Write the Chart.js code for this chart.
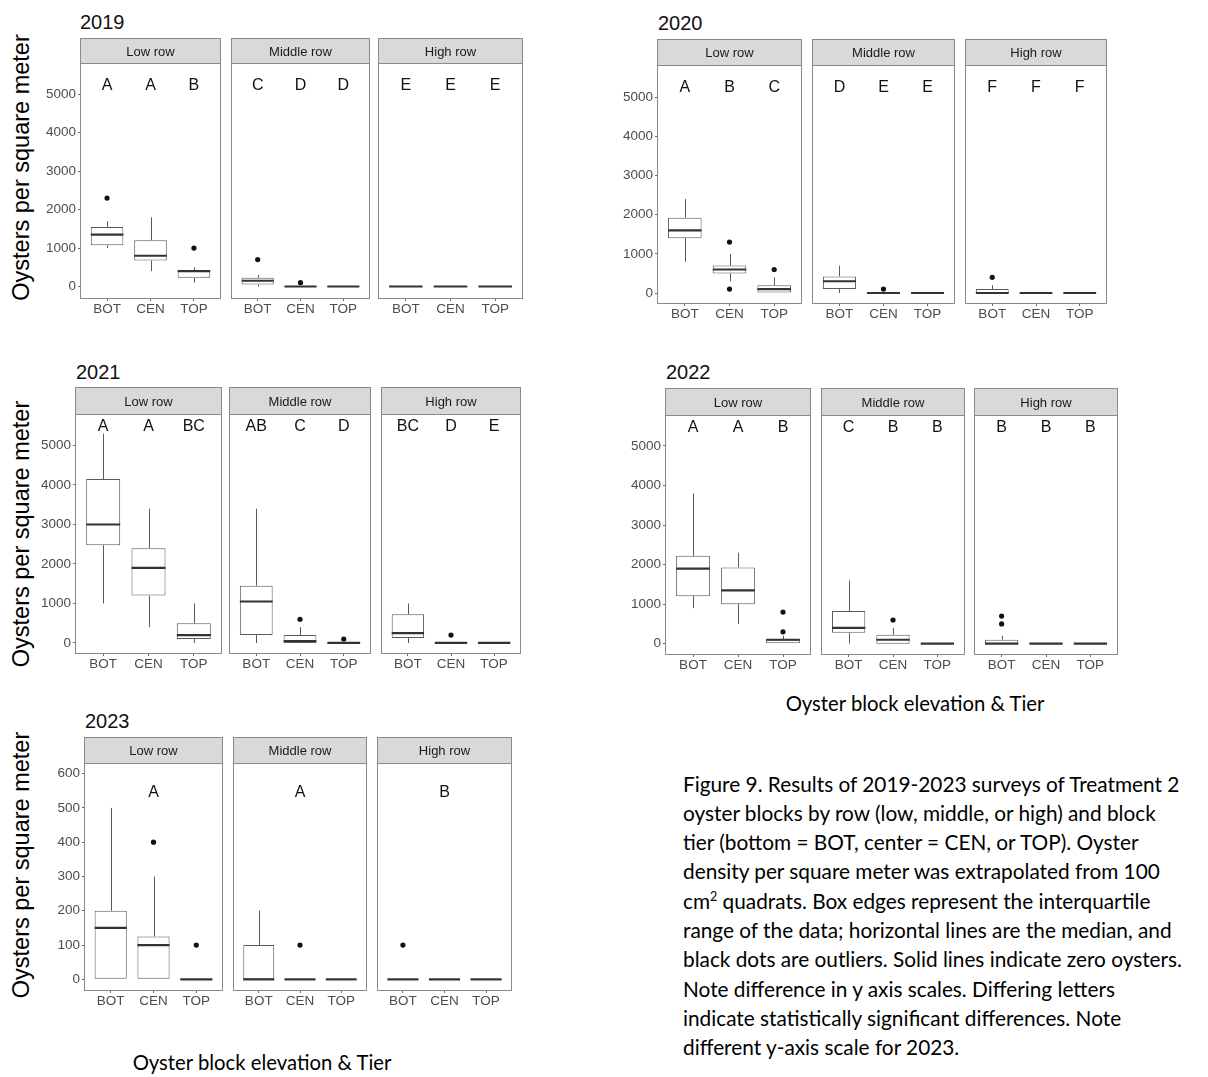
<!DOCTYPE html>
<html>
<head>
<meta charset="utf-8">
<title>Oyster density by row and tier, 2019-2023</title>
<script src="https://cdn.jsdelivr.net/npm/chart.js@4.4.1/dist/chart.umd.min.js"></script>
<style>
  html, body { margin: 0; padding: 0; background: #ffffff; }
  body { width: 1208px; height: 1077px; overflow: hidden; position: relative; }
  canvas.panel { position: absolute; }
  svg#labels { position: absolute; left: 0; top: 0; pointer-events: none; }
</style>
</head>
<body>
<svg id="labels" width="1208" height="1077" xmlns="http://www.w3.org/2000/svg"></svg>
<script>
// ---------------- data ----------------
const tiers = ['BOT', 'CEN', 'TOP'];
const rows = ['Low row', 'Middle row', 'High row'];
const years = ['2019', '2020', '2021', '2022', '2023'];
const yTicksMain = [0, 1000, 2000, 3000, 4000, 5000];
const yTicks2023 = [0, 100, 200, 300, 400, 500, 600];

// Box summaries for each row (Low, Middle, High) and tier (BOT, CEN, TOP):
// [lower whisker, lower hinge, median, upper hinge, upper whisker]
const box2019 = [
  [[1000, 1075, 1350, 1550, 1700], [400, 675, 800, 1200, 1800], [100, 225, 400, 425, 500]],
  [[0, 50, 150, 225, 300], [0, 0, 0, 0, 0], [0, 0, 0, 0, 0]],
  [[0, 0, 0, 0, 0], [0, 0, 0, 0, 0], [0, 0, 0, 0, 0]]
];
const box2020 = [
  [[800, 1400, 1600, 1925, 2400], [300, 500, 600, 700, 1000], [0, 0, 100, 200, 400]],
  [[0, 100, 300, 425, 700], [0, 0, 0, 0, 0], [0, 0, 0, 0, 0]],
  [[0, 0, 0, 100, 200], [0, 0, 0, 0, 0], [0, 0, 0, 0, 0]]
];
const box2021 = [
  [[1000, 2475, 3000, 4150, 5300], [400, 1200, 1900, 2400, 3400], [0, 100, 200, 500, 1000]],
  [[0, 200, 1050, 1450, 3400], [0, 0, 50, 200, 400], [0, 0, 0, 0, 0]],
  [[0, 125, 250, 725, 1000], [0, 0, 0, 0, 0], [0, 0, 0, 0, 0]]
];
const box2022 = [
  [[900, 1200, 1900, 2225, 3800], [500, 1000, 1350, 1925, 2300], [0, 0, 100, 100, 200]],
  [[0, 275, 400, 825, 1600], [0, 0, 100, 225, 400], [0, 0, 0, 0, 0]],
  [[0, 0, 0, 100, 200], [0, 0, 0, 0, 0], [0, 0, 0, 0, 0]]
];
const box2023 = [
  [[0, 0, 150, 200, 500], [0, 0, 100, 125, 300], [0, 0, 0, 0, 0]],
  [[0, 0, 0, 100, 200], [0, 0, 0, 0, 0], [0, 0, 0, 0, 0]],
  [[0, 0, 0, 0, 0], [0, 0, 0, 0, 0], [0, 0, 0, 0, 0]]
];

// Outlying quadrats per row and tier
const out2019 = [[[2300], [], [1000]], [[700], [100], []], [[], [], []]];
const out2020 = [[[], [1300, 100], [600]], [[], [100], []], [[400], [], []]];
const out2021 = [[[], [], []], [[], [600], [100]], [[], [200], []]];
const out2022 = [[[], [], [800, 300]], [[], [600], []], [[700, 500], [], []]];
const out2023 = [[[], [400], [100]], [[], [100], []], [[100], [], []]];

// Significance letters per row and tier
const letters2019 = [['A', 'A', 'B'], ['C', 'D', 'D'], ['E', 'E', 'E']];
const letters2020 = [['A', 'B', 'C'], ['D', 'E', 'E'], ['F', 'F', 'F']];
const letters2021 = [['A', 'A', 'BC'], ['AB', 'C', 'D'], ['BC', 'D', 'E']];
const letters2022 = [['A', 'A', 'B'], ['C', 'B', 'B'], ['B', 'B', 'B']];
const letters2023 = [['', 'A', ''], ['', 'A', ''], ['', 'B', '']];

const boxesByYear = [box2019, box2020, box2021, box2022, box2023];
const outliersByYear = [out2019, out2020, out2021, out2022, out2023];
const lettersByYear = [letters2019, letters2020, letters2021, letters2022, letters2023];

// ---------------- page layout of the five facet blocks ----------------
const blocks = [
  { stripTop: 39,  plotTop: 64,  plotBottom: 298, panels: [[81, 223], [229, 372], [379, 522]],
    yMin: -299, yMax: 5788, ticks: yTicksMain, letterY: 5216, title: [80, 28.5] },
  { stripTop: 40,  plotTop: 66,  plotBottom: 303, panels: [[658, 804], [810, 957], [963, 1109]],
    yMin: -255, yMax: 5798, ticks: yTicksMain, letterY: 5255, title: [658, 29.5] },
  { stripTop: 388, plotTop: 415, plotBottom: 653, panels: [[76, 221], [227, 373], [379, 523]],
    yMin: -254, yMax: 5772, ticks: yTicksMain, letterY: 5482, title: [76, 378.5] },
  { stripTop: 389, plotTop: 416, plotBottom: 654, panels: [[666, 813], [819, 967], [972, 1120]],
    yMin: -260, yMax: 5757, ticks: yTicksMain, letterY: 5454, title: [666, 378.5] },
  { stripTop: 738, plotTop: 764, plotBottom: 990, panels: [[85, 225], [231, 369], [375, 514]],
    yMin: -31, yMax: 628, ticks: yTicks2023, letterY: 545, title: [85, 728] }
];

const SANS = "'Liberation Sans', Arial, Helvetica, sans-serif";

// Whiskers, medians, significance letters, facet strip and panel frame
const facetPlugin = {
  id: 'facet',
  beforeDatasetsDraw(chart) {
    const { ctx, scales: { y } } = chart;
    const meta = chart.getDatasetMeta(0);
    const stats = chart.data.datasets[0].stats;
    ctx.save();
    ctx.strokeStyle = '#5a5a5a';
    ctx.lineWidth = 1;
    stats.forEach((s, i) => {
      const el = meta.data[i];
      const cx = Math.round(el.x) + 0.5;
      ctx.beginPath();
      ctx.moveTo(cx, y.getPixelForValue(s[3]));
      ctx.lineTo(cx, y.getPixelForValue(s[4]));
      ctx.moveTo(cx, y.getPixelForValue(s[1]));
      ctx.lineTo(cx, y.getPixelForValue(s[0]));
      ctx.stroke();
    });
    ctx.restore();
  },
  afterDatasetsDraw(chart, args, opts) {
    const { ctx, scales: { x, y } } = chart;
    const meta = chart.getDatasetMeta(0);
    const stats = chart.data.datasets[0].stats;
    ctx.save();
    ctx.strokeStyle = '#333333';
    ctx.lineWidth = 2.2;
    stats.forEach((s, i) => {
      const el = meta.data[i];
      const ym = y.getPixelForValue(s[2]);
      ctx.beginPath();
      ctx.moveTo(el.x - el.width / 2, ym);
      ctx.lineTo(el.x + el.width / 2, ym);
      ctx.stroke();
    });
    ctx.fillStyle = '#111111';
    ctx.font = '16px ' + SANS;
    ctx.textAlign = 'center';
    ctx.textBaseline = 'middle';
    opts.letters.forEach((t, i) => {
      if (t) ctx.fillText(t, x.getPixelForValue(i), y.getPixelForValue(opts.letterY));
    });
    ctx.restore();
  },
  afterDraw(chart, args, opts) {
    const { ctx, chartArea: a } = chart;
    const S = opts.stripHeight;
    ctx.save();
    ctx.fillStyle = '#d9d9d9';
    ctx.fillRect(a.left, a.top - S, a.right - a.left, S);
    ctx.strokeStyle = '#8a8a8a';
    ctx.lineWidth = 1;
    ctx.strokeRect(a.left - 0.5, a.top - S - 0.5, a.right - a.left + 1, S);
    ctx.strokeRect(a.left - 0.5, a.top - 0.5, a.right - a.left + 1, a.bottom - a.top + 1);
    ctx.fillStyle = '#1a1a1a';
    ctx.font = '13px ' + SANS;
    ctx.textAlign = 'center';
    ctx.textBaseline = 'middle';
    ctx.fillText(opts.strip, (a.left + a.right) / 2, a.top - S / 2 + 0.5);
    ctx.restore();
  }
};

function addPanel(block, r, boxes, outs, lets) {
  const [L, R] = block.panels[r];
  const first = r === 0;
  const W = first ? 46 : 0;   // y-axis band width
  const H = 22;               // x-axis band height
  const pad = 1;
  const S = block.plotTop - block.stripTop;
  const cw = W + (R - L) + 2 * pad;
  const ch = (block.plotBottom - block.stripTop) + H + pad;
  const cv = document.createElement('canvas');
  cv.className = 'panel';
  cv.width = cw; cv.height = ch;
  cv.style.width = cw + 'px'; cv.style.height = ch + 'px';
  cv.style.left = (L - W - pad) + 'px';
  cv.style.top = (block.stripTop - pad) + 'px';
  document.body.appendChild(cv);

  new Chart(cv, {
    type: 'bar',
    data: {
      datasets: [
        {
          type: 'bar',
          data: boxes.map((s, i) => ({ x: i, y: [s[1], s[3]] })),
          stats: boxes,
          backgroundColor: '#ffffff',
          borderColor: '#5a5a5a',
          borderWidth: 1,
          borderSkipped: false,
          categoryPercentage: 1,
          barPercentage: 0.75
        },
        {
          type: 'scatter',
          data: outs.flatMap((o, i) => o.map(v => ({ x: i, y: v }))),
          pointRadius: 2.6,
          pointBackgroundColor: '#111111',
          pointBorderWidth: 0
        }
      ]
    },
    options: {
      responsive: false,
      animation: false,
      events: [],
      layout: { padding: { left: pad, right: pad, top: S + pad, bottom: 0 } },
      scales: {
        x: {
          type: 'linear',
          offset: false,
          bounds: 'data',
          min: -0.6,
          max: 2.6,
          afterBuildTicks: s => { s.ticks = tiers.map((t, i) => ({ value: i })); },
          afterFit: s => { s.height = H; },
          ticks: {
            callback: v => tiers[v],
            color: '#4d4d4d',
            font: { family: SANS, size: 13.5 },
            padding: 0,
            maxRotation: 0,
            autoSkip: false
          },
          grid: { display: true, offset: false, drawOnChartArea: false, drawTicks: true, tickLength: 3, color: '#6a6a6a' },
          border: { display: false }
        },
        y: {
          type: 'linear',
          display: first,
          bounds: 'data',
          min: block.yMin,
          max: block.yMax,
          afterBuildTicks: s => { s.ticks = block.ticks.map(v => ({ value: v })); },
          afterFit: s => { s.width = W; },
          ticks: {
            callback: v => String(v),
            color: '#4d4d4d',
            font: { family: SANS, size: 13.5 },
            padding: 2
          },
          grid: { display: true, drawOnChartArea: false, drawTicks: true, tickLength: 3, color: '#6a6a6a' },
          border: { display: false }
        }
      },
      plugins: {
        legend: { display: false },
        tooltip: { enabled: false },
        facet: { strip: rows[r], stripHeight: S, letters: lets, letterY: block.letterY }
      }
    },
    plugins: [facetPlugin]
  });
}

blocks.forEach((b, k) => {
  rows.forEach((row, r) => {
    addPanel(b, r, boxesByYear[k][r], outliersByYear[k][r], lettersByYear[k][r]);
  });
});

// ---------------- titles, axis titles and caption ----------------
const NS = 'http://www.w3.org/2000/svg';
const svg = document.getElementById('labels');
function svgText(str, attrs) {
  const t = document.createElementNS(NS, 'text');
  Object.entries(attrs).forEach(([k, v]) => t.setAttribute(k, v));
  t.textContent = str;
  svg.appendChild(t);
  return t;
}

blocks.forEach((b, k) => {
  svgText(years[k], { x: b.title[0], y: b.title[1], 'font-family': SANS, 'font-size': 20, fill: '#111' });
});

const yTitle = 'Oysters per square meter';
[167.5, 534, 865].forEach(cy => {
  svgText(yTitle, { transform: `translate(29,${cy}) rotate(-90)`, 'text-anchor': 'middle',
    'font-family': SANS, 'font-size': 23.5, fill: '#000' });
});

const CAPFONT = "Lato, 'Open Sans', sans-serif";
const CAPSIZE = 20.8;
const xTitle = 'Oyster block elevation & Tier';
svgText(xTitle, { x: 262, y: 1070, 'text-anchor': 'middle', 'font-family': CAPFONT, 'font-size': 20.3, fill: '#000' });
svgText(xTitle, { x: 915, y: 711, 'text-anchor': 'middle', 'font-family': CAPFONT, 'font-size': 20.3, fill: '#000' });

const captionLines = [
  'Figure 9. Results of 2019-2023 surveys of Treatment 2',
  'oyster blocks by row (low, middle, or high) and block',
  'tier (bottom = BOT, center = CEN, or TOP). Oyster',
  'density per square meter was extrapolated from 100',
  null,
  'range of the data; horizontal lines are the median, and',
  'black dots are outliers. Solid lines indicate zero oysters.',
  'Note difference in y axis scales. Differing letters',
  'indicate statistically significant differences. Note',
  'different y-axis scale for 2023.'
];
captionLines.forEach((line, i) => {
  const y = 791.7 + i * 29.26;
  if (line !== null) {
    svgText(line, { x: 683, y: y, 'font-family': CAPFONT, 'font-size': CAPSIZE, fill: '#000' });
  } else {
    const t = svgText('', { x: 683, y: y, 'font-family': CAPFONT, 'font-size': CAPSIZE, fill: '#000' });
    const a = document.createElementNS(NS, 'tspan'); a.textContent = 'cm';
    const b = document.createElementNS(NS, 'tspan'); b.textContent = '2'; b.setAttribute('font-size', 12.5); b.setAttribute('dy', -7.5);
    const c = document.createElementNS(NS, 'tspan'); c.textContent = ' quadrats. Box edges represent the interquartile'; c.setAttribute('dy', 7.5);
    t.appendChild(a); t.appendChild(b); t.appendChild(c);
  }
});
</script>
</body>
</html>
